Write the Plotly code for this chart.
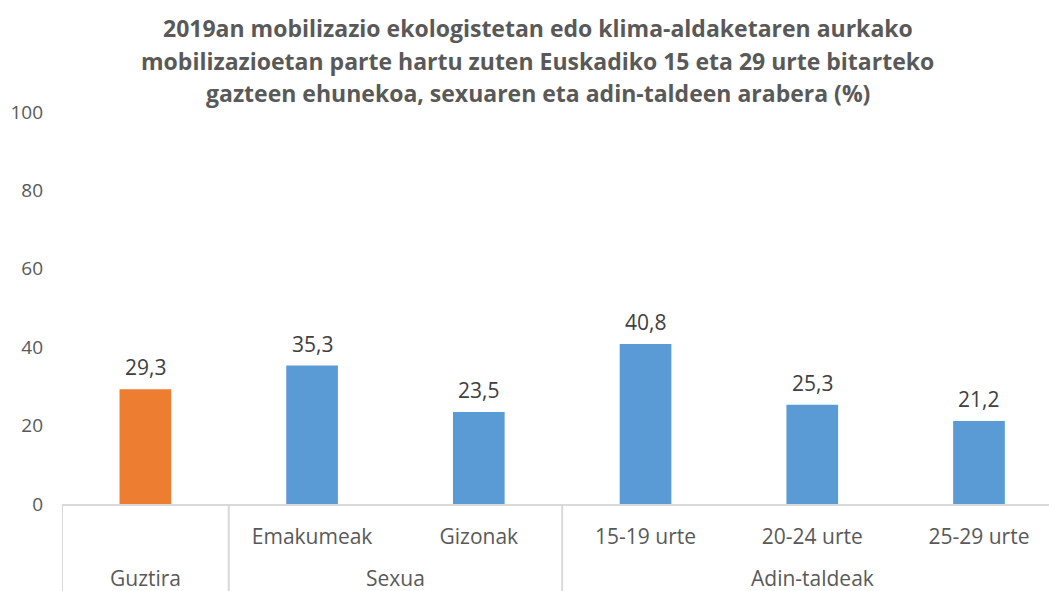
import plotly.graph_objects as go

groups = ["Guztira", "Sexua", "Sexua", "Adin-taldeak", "Adin-taldeak", "Adin-taldeak"]
categories = ["", "Emakumeak", "Gizonak", "15-19 urte", "20-24 urte", "25-29 urte"]
values = [29.3, 35.3, 23.5, 40.8, 25.3, 21.2]
colors = ["#ED7D31", "#5B9BD5", "#5B9BD5", "#5B9BD5", "#5B9BD5", "#5B9BD5"]
y_ticks = [0, 20, 40, 60, 80, 100]
title_lines = [
    "2019an mobilizazio ekologistetan edo klima-aldaketaren aurkako",
    "mobilizazioetan parte hartu zuten Euskadiko 15 eta 29 urte bitarteko",
    "gazteen ehunekoa, sexuaren eta adin-taldeen arabera (%)",
]

FONT = "Open Sans"
GREY = "#595959"
LINE = "#D9D9D9"

idx = list(range(len(values)))
labels = [f"{v:.1f}".replace(".", ",") for v in values]

fig = go.Figure(go.Bar(
    x=idx, y=values,
    marker=dict(color=colors, line=dict(width=0)),
    width=0.31,
    hoverinfo="skip",
))

annotations = []
# data labels
for i, v, t in zip(idx, values, labels):
    annotations.append(dict(x=i, y=v, xref="x", yref="y", text=t, showarrow=False,
                            yanchor="middle", yshift=22,
                            font=dict(family=FONT, size=21, color="#404040")))
# group labels and dividers
shapes = []
bottom = -87 / 392
start = 0
for i in range(1, len(groups) + 1):
    if i == len(groups) or groups[i] != groups[start]:
        center = (start + i - 1) / 2
        annotations.append(dict(x=center, y=0, xref="x", yref="paper", text=groups[start],
                                showarrow=False, yanchor="middle", yshift=-74,
                                font=dict(family=FONT, size=21, color=GREY)))
        shapes.append(dict(type="line", xref="x", yref="paper", x0=start - 0.5, x1=start - 0.5,
                           y0=0, y1=bottom, line=dict(color=LINE, width=2)))
        start = i

# title lines
for k, line in enumerate(title_lines):
    annotations.append(dict(x=0.482, y=1, xref="paper", yref="paper", text=line, showarrow=False,
                            xanchor="center", yanchor="middle", yshift=84 - 32.5 * k,
                            font=dict(family=FONT, size=23, color=GREY, weight="bold")))

fig.update_layout(
    width=1049, height=591,
    paper_bgcolor="white", plot_bgcolor="white",
    margin=dict(l=62, r=0, t=112, b=87),
    showlegend=False, hovermode=False,
    annotations=annotations, shapes=shapes,
    font=dict(family=FONT, color=GREY),
)
fig.update_xaxes(
    range=[-0.5, 5.42], tickvals=idx, ticktext=categories,
    showline=True, linecolor=LINE, linewidth=2,
    ticks="", ticklabelstandoff=13,
    tickfont=dict(family=FONT, size=21, color=GREY),
    showgrid=False, zeroline=False,
)
fig.update_yaxes(
    range=[0, 100], tickvals=y_ticks, showgrid=False, zeroline=False,
    showline=False, ticks="", ticklabelstandoff=18,
    tickfont=dict(family=FONT, size=19, color=GREY),
)

fig.write_html("out.html", config={"displayModeBar": False},
               post_script="document.body.style.margin='0px';")
